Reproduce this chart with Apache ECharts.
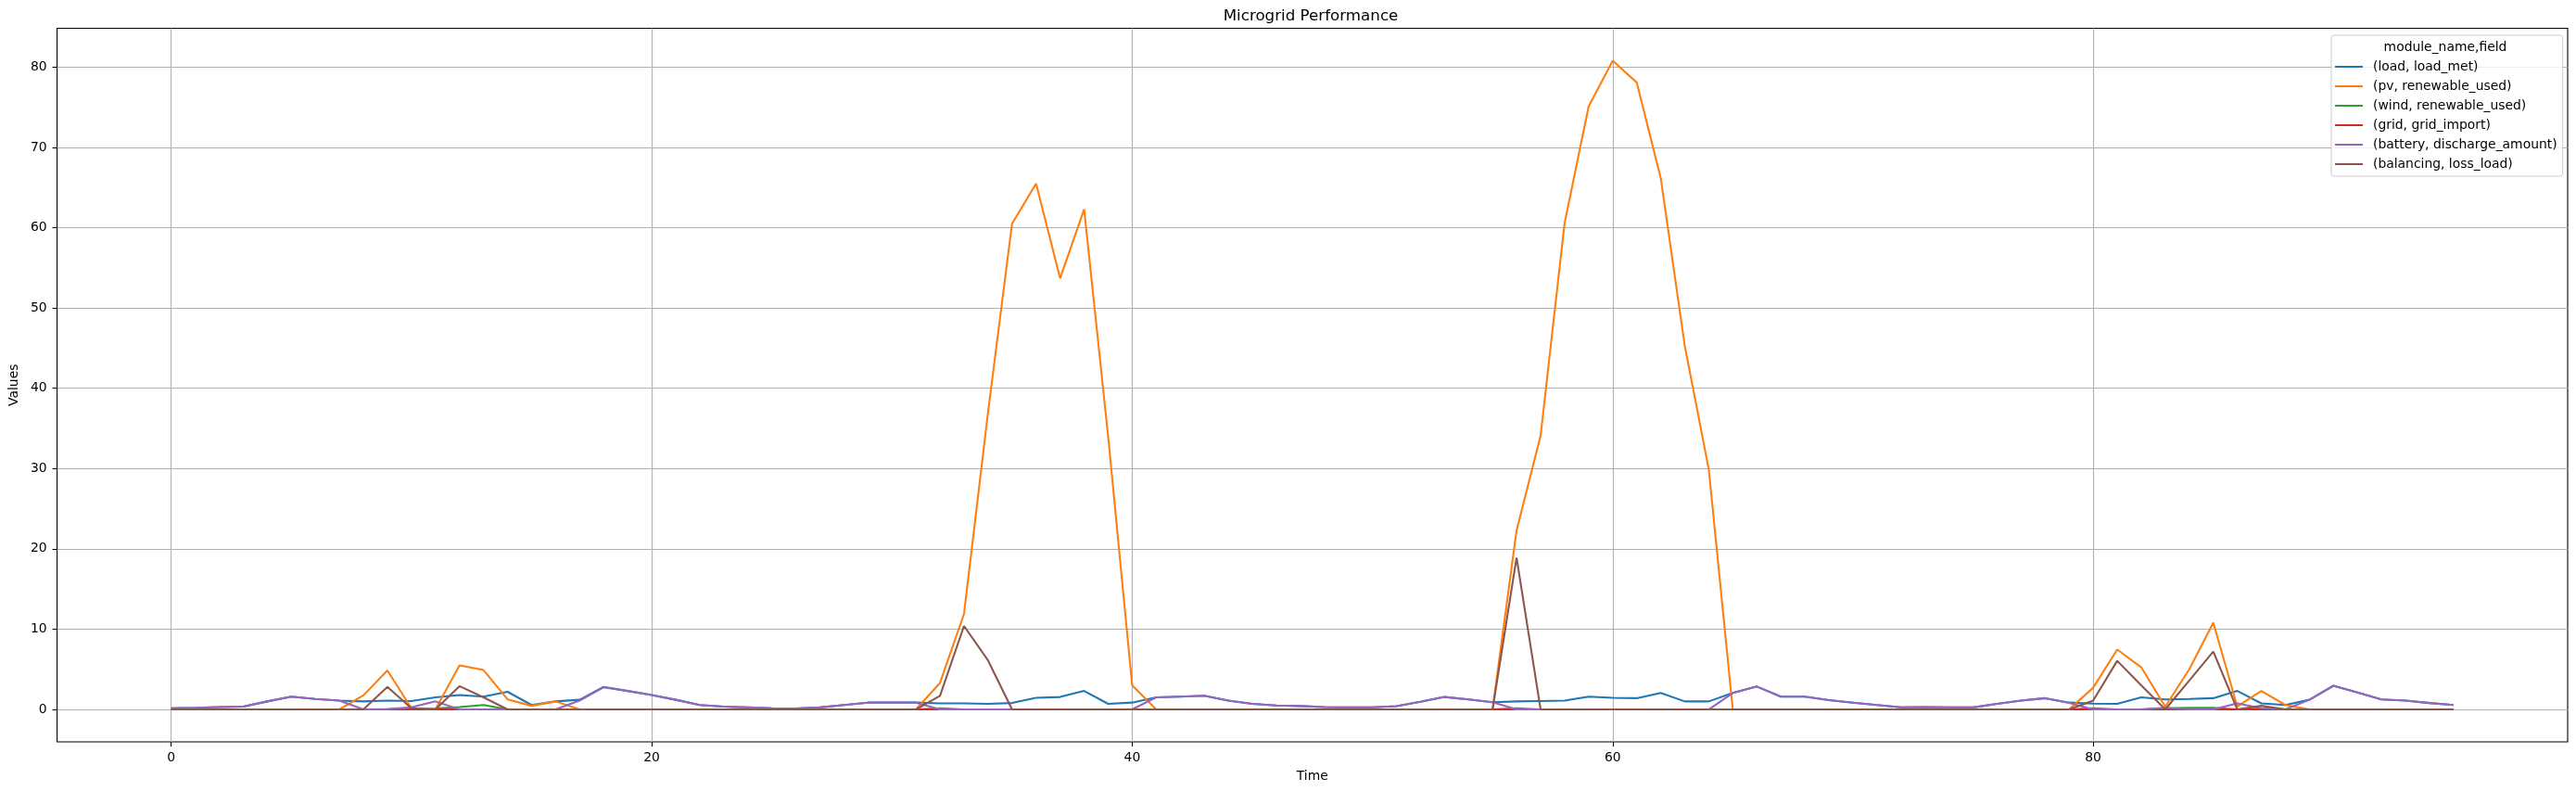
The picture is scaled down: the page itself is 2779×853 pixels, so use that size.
<!DOCTYPE html>
<html>
<head>
<meta charset="utf-8">
<title>Microgrid Performance</title>
<script src="https://cdn.jsdelivr.net/npm/echarts@6.0.0/dist/echarts.min.js"></script>
<style>
  html, body { margin: 0; padding: 0; background: #fff; }
  #chart { width: 2779px; height: 853px; }
</style>
</head>
<body>
<div id="chart"></div>
<script>
// time steps on the x axis
var time = [
  0, 1, 2, 3, 4, 5, 6, 7, 8, 9, 10, 11, 12, 13, 14, 15, 16, 17, 18, 19,
  20, 21, 22, 23, 24, 25, 26, 27, 28, 29, 30, 31, 32, 33, 34, 35, 36, 37, 38, 39,
  40, 41, 42, 43, 44, 45, 46, 47, 48, 49, 50, 51, 52, 53, 54, 55, 56, 57, 58, 59,
  60, 61, 62, 63, 64, 65, 66, 67, 68, 69, 70, 71, 72, 73, 74, 75, 76, 77, 78, 79,
  80, 81, 82, 83, 84, 85, 86, 87, 88, 89, 90, 91, 92, 93, 94, 95
]

var loadMet = [
  0.15, 0.2, 0.3, 0.35, 1.0, 1.6, 1.3, 1.1, 1.0, 1.1, 1.05, 1.5, 1.8, 1.6, 2.2, 0.55, 1.0, 1.2, 2.8, 2.3,
  1.8, 1.2, 0.55, 0.35, 0.25, 0.15, 0.1, 0.25, 0.55, 0.85, 0.85, 0.85, 0.75, 0.75, 0.7, 0.8, 1.45, 1.55, 2.3, 0.7,
  0.85, 1.5, 1.6, 1.7, 1.1, 0.7, 0.5, 0.42, 0.3, 0.25, 0.27, 0.4, 0.95, 1.55, 1.25, 0.9, 1.0, 1.05, 1.1, 1.6,
  1.45, 1.4, 2.05, 1.0, 1.0, 2.05, 2.85, 1.6, 1.6, 1.15, 0.85, 0.55, 0.27, 0.3, 0.27, 0.25, 0.7, 1.1, 1.4, 0.85,
  0.72, 0.7, 1.5, 1.25, 1.3, 1.4, 2.3, 0.75, 0.55, 1.2, 2.95, 2.1, 1.25, 1.1, 0.8, 0.55
]

var pvUsed = [
  0, 0, 0, 0, 0, 0, 0, 0, 1.75, 4.85, 0.15, 0, 5.5, 4.9, 1.25, 0.45, 1.0, 0, 0, 0,
  0, 0, 0, 0, 0, 0, 0, 0, 0, 0, 0, 0, 3.3, 11.9, 37, 60.5, 65.5, 53.7, 62.3, 34,
  3.0, 0, 0, 0, 0, 0, 0, 0, 0, 0, 0, 0, 0, 0, 0, 0, 22.3, 34.1, 60.6, 75.1,
  80.8, 78.1, 66.2, 45.3, 29.9, 0, 0, 0, 0, 0, 0, 0, 0, 0, 0, 0, 0, 0, 0, 0,
  2.7, 7.45, 5.25, 0.35, 5.0, 10.8, 0.35, 2.3, 0.55, 0, 0, 0, 0, 0, 0, 0
]

var windUsed = [
  0, 0, 0, 0, 0, 0, 0, 0, 0, 0, 0, 0.1, 0.3, 0.55, 0, 0, 0, 0, 0, 0,
  0, 0, 0, 0, 0, 0, 0, 0, 0, 0, 0, 0, 0.15, 0, 0, 0, 0, 0, 0, 0,
  0, 0, 0, 0, 0, 0, 0, 0, 0, 0, 0, 0, 0, 0, 0, 0, 0.15, 0, 0, 0,
  0, 0, 0, 0, 0, 0, 0, 0, 0, 0, 0, 0, 0, 0, 0, 0, 0, 0, 0, 0,
  0.15, 0, 0, 0.15, 0.2, 0.2, 0, 0.1, 0, 0, 0, 0, 0, 0, 0, 0
]

var gridImport = [
  0, 0, 0, 0, 0, 0, 0, 0, 0, 0, 0, 0, 0, 0, 0, 0, 0, 0, 0, 0,
  0, 0, 0, 0, 0, 0, 0, 0, 0, 0, 0, 0, 0, 0, 0, 0, 0, 0, 0, 0,
  0, 0, 0, 0, 0, 0, 0, 0, 0, 0, 0, 0, 0, 0, 0, 0, 0, 0, 0, 0,
  0, 0, 0, 0, 0, 0, 0, 0, 0, 0, 0, 0, 0, 0, 0, 0, 0, 0, 0, 0,
  0, 0, 0, 0, 0, 0, 0, 0, 0, 0, 0, 0, 0, 0, 0, 0
]

var dischargeAmount = [
  0.15, 0.2, 0.3, 0.35, 1.0, 1.6, 1.3, 1.1, 0, 0.05, 0.25, 1.0, 0, 0, 0, 0, 0, 1.1, 2.75, 2.3,
  1.8, 1.2, 0.55, 0.35, 0.25, 0.15, 0.1, 0.25, 0.55, 0.85, 0.85, 0.85, 0, 0, 0, 0, 0, 0, 0, 0,
  0, 1.5, 1.6, 1.7, 1.1, 0.7, 0.5, 0.42, 0.3, 0.25, 0.27, 0.4, 0.95, 1.55, 1.25, 0.9, 0, 0, 0, 0,
  0, 0, 0, 0, 0, 2.05, 2.85, 1.6, 1.6, 1.15, 0.85, 0.55, 0.27, 0.3, 0.27, 0.25, 0.7, 1.1, 1.4, 0.8,
  0, 0, 0, 0.2, 0, 0, 0.75, 0.15, 0, 1.2, 2.95, 2.1, 1.25, 1.1, 0.8, 0.55
]

var lossLoad = [
  0, 0, 0, 0, 0, 0, 0, 0, 0, 2.8, 0.15, 0, 2.9, 1.5, 0, 0, 0, 0, 0, 0,
  0, 0, 0, 0, 0, 0, 0, 0, 0, 0, 0, 0, 1.7, 10.4, 6.1, 0, 0, 0, 0, 0,
  0, 0, 0, 0, 0, 0, 0, 0, 0, 0, 0, 0, 0, 0, 0, 0, 18.9, 0, 0, 0,
  0, 0, 0, 0, 0, 0, 0, 0, 0, 0, 0, 0, 0, 0, 0, 0, 0, 0, 0, 0,
  1.1, 6.05, 3.0, 0, 3.6, 7.2, 0, 0.45, 0, 0, 0, 0, 0, 0, 0, 0
]

var seriesNames = [
  '(load, load_met)',
  '(pv, renewable_used)',
  '(wind, renewable_used)',
  '(grid, grid_import)',
  '(battery, discharge_amount)',
  '(balancing, loss_load)'
]
var seriesValues = [loadMet, pvUsed, windUsed, gridImport, dischargeAmount, lossLoad]
var colors = ['#1f77b4', '#ff7f0e', '#2ca02c', '#d62728', '#9467bd', '#8c564b']

var xTicks = [0, 20, 40, 60, 80]
var yTicks = [0, 10, 20, 30, 40, 50, 60, 70, 80]

var font = 'DejaVu Sans'

var series = seriesNames.map(function (name, k) {
  return {
    name: name,
    type: 'line',
    symbol: 'none',
    color: colors[k],
    lineStyle: { width: 2.08, color: colors[k] },
    data: time.map(function (t, i) { return [t, seriesValues[k][i]] }),
  }
})

var chart = echarts.init(document.getElementById('chart'), null, { renderer: 'canvas' })

chart.setOption({
  animation: false,
  backgroundColor: '#fff',
  textStyle: { fontFamily: font, color: '#000' },
  title: {
    text: 'Microgrid Performance',
    left: 1414,
    top: 9,
    padding: 0,
    textAlign: 'center',
    textStyle: { fontFamily: font, fontSize: 16.7, fontWeight: 'normal', color: '#000' },
  },
  grid: {
    left: 57.6,
    right: 9,
    top: 30.5,
    bottom: 53,
    show: true,
    borderColor: '#000',
    borderWidth: 1.1,
  },
  legend: {
    orient: 'vertical',
    left: 2515,
    top: 38,
    padding: [26, 6, 5, 4],
    itemWidth: 30,
    itemHeight: 2,
    itemGap: 5,
    icon: 'rect',
    borderColor: '#cccccc',
    borderWidth: 1,
    borderRadius: 3,
    backgroundColor: 'rgba(255,255,255,0.8)',
    textStyle: { fontFamily: font, fontSize: 13.9, color: '#000', lineHeight: 16, padding: [0, 0, 0, 6] },
    data: seriesNames,
  },
  graphic: [
    {
      type: 'text',
      x: 2638,
      y: 51,
      z: 100,
      style: {
        text: 'module_name,field',
        fontFamily: font,
        fontSize: 13.9,
        fill: '#000',
        align: 'center',
        verticalAlign: 'middle',
      },
    },
  ],
  xAxis: {
    type: 'value',
    min: -4.75,
    max: 99.75,
    name: 'Time',
    nameLocation: 'middle',
    nameGap: 30,
    nameTextStyle: { fontFamily: font, fontSize: 13.9, color: '#000' },
    axisLine: { show: false, onZero: false },
    axisTick: { show: true, length: 5, customValues: xTicks, lineStyle: { color: '#000', width: 1.1 } },
    axisLabel: { customValues: xTicks, margin: 10, fontFamily: font, fontSize: 13.9, color: '#000' },
    splitLine: { show: true, lineStyle: { color: '#b0b0b0', width: 1.1 } },
  },
  yAxis: {
    type: 'value',
    min: -4.04,
    max: 84.84,
    name: 'Values',
    nameLocation: 'middle',
    nameGap: 35,
    nameTextStyle: { fontFamily: font, fontSize: 13.9, color: '#000' },
    axisLine: { show: false, onZero: false },
    axisTick: { show: true, length: 5, customValues: yTicks, lineStyle: { color: '#000', width: 1.1 } },
    axisLabel: { customValues: yTicks, margin: 11, fontFamily: font, fontSize: 13.9, color: '#000' },
    splitLine: { show: true, lineStyle: { color: '#b0b0b0', width: 1.1 } },
  },
  series: series,
})
</script>
</body>
</html>
